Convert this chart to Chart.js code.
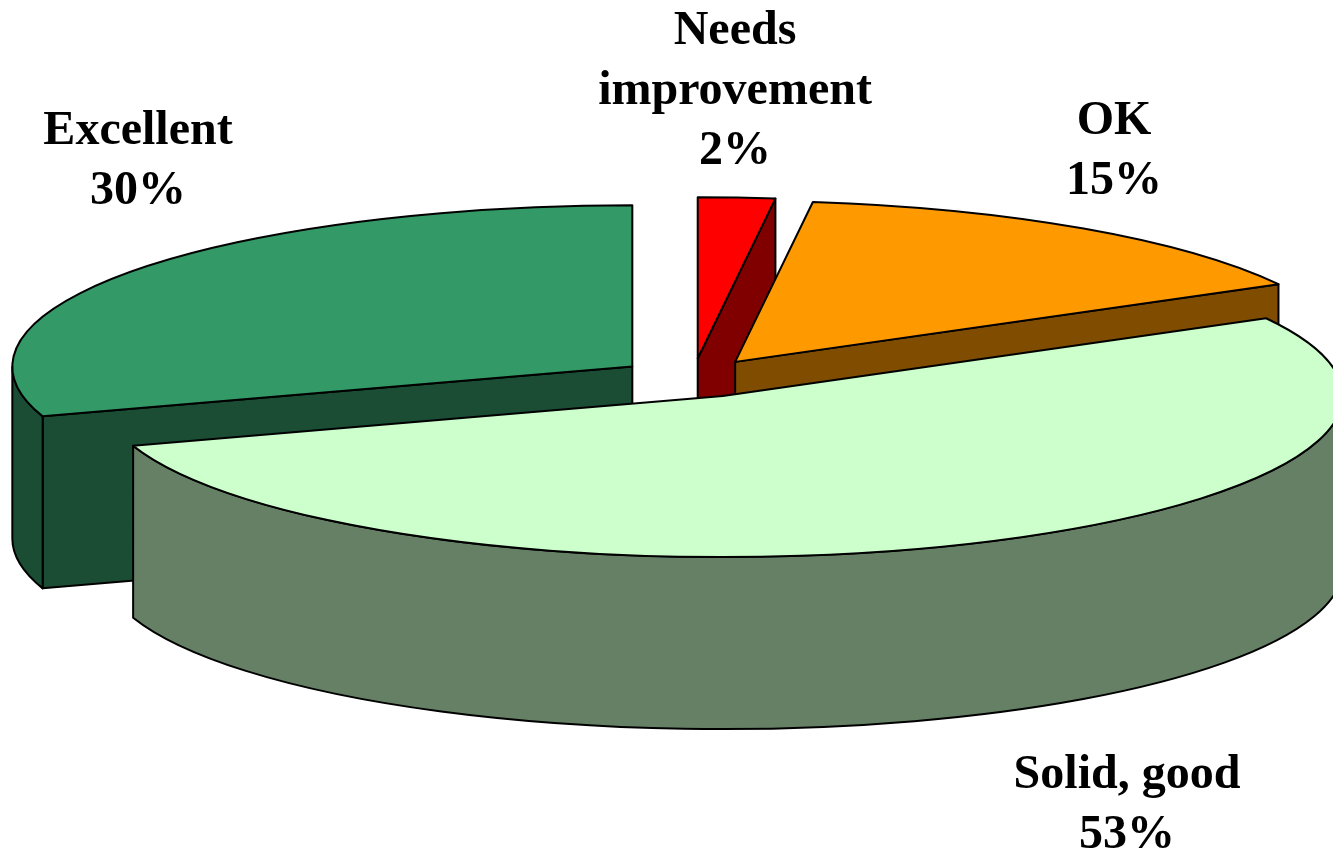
<!DOCTYPE html>
<html>
<head>
<meta charset="utf-8">
<style>html,body{margin:0;padding:0;background:#fff;overflow:hidden}canvas{display:block}</style>
<script src="https://cdn.jsdelivr.net/npm/chart.js@4"></script>
</head>
<body>
<canvas id="c" width="1333" height="852"></canvas>
<script>
const categories = ['Needs improvement', 'OK', 'Solid, good', 'Excellent'];
const labelLines = [['Needs', 'improvement'], ['OK'], ['Solid, good'], ['Excellent']];
const values = [2, 15, 53, 30];
const topColors = ['#FF0000', '#FF9900', '#CCFFCC', '#339966'];
const wallColors = ['#800000', '#804D00', '#668066', '#1A4D33'];

// view settings for the tilted, exploded pie
const tilt = 0.26, depth = 172, explode = 75, pieRadius = 620;
const drawOrder = [3, 0, 1, 2];
const labelAnchors = [[735, 44], [1114, 134], [1127, 788], [138, 144]];
const lineGap = 60;

function sliceFrame(arc) {
  const mid = (arc.startAngle + arc.endAngle) / 2;
  return {
    dx: Math.cos(mid) * explode,
    dy: Math.sin(mid) * explode * tilt,
    cx: arc.x + Math.cos(mid) * explode,
    cy: arc.y + Math.sin(mid) * explode * tilt,
    rx: arc.outerRadius,
    ry: arc.outerRadius * tilt
  };
}

function paint(ctx, fill) {
  ctx.fillStyle = fill;
  ctx.fill();
  ctx.lineWidth = 2;
  ctx.lineJoin = 'round';
  ctx.strokeStyle = '#000';
  ctx.stroke();
}

function radialFace(ctx, f, angle, color) {
  const ex = f.cx + f.rx * Math.cos(angle), ey = f.cy + f.ry * Math.sin(angle);
  ctx.beginPath();
  ctx.moveTo(f.cx, f.cy);
  ctx.lineTo(ex, ey);
  ctx.lineTo(ex, ey + depth);
  ctx.lineTo(f.cx, f.cy + depth);
  ctx.closePath();
  paint(ctx, color);
}

function drawWalls(ctx, arc, color) {
  const f = sliceFrame(arc), s = arc.startAngle, e = arc.endAngle;
  const a0 = Math.max(s, 0), a1 = Math.min(e, Math.PI);
  if (Math.cos(s) < -1e-6) radialFace(ctx, f, s, color);
  if (Math.cos(e) > 1e-6) radialFace(ctx, f, e, color);
  if (a1 > a0) {
    ctx.beginPath();
    ctx.ellipse(f.cx, f.cy, f.rx, f.ry, 0, a0, a1);
    ctx.ellipse(f.cx, f.cy + depth, f.rx, f.ry, 0, a1, a0, true);
    ctx.closePath();
    paint(ctx, color);
  }
}

function drawTop(ctx, arc) {
  const f = sliceFrame(arc);
  ctx.save();
  ctx.translate(f.dx, arc.y + f.dy);
  ctx.scale(1, tilt);
  ctx.translate(0, -arc.y);
  arc.draw(ctx);
  ctx.restore();
  ctx.beginPath();
  ctx.moveTo(f.cx, f.cy);
  ctx.ellipse(f.cx, f.cy, f.rx, f.ry, 0, arc.startAngle, arc.endAngle);
  ctx.closePath();
  ctx.lineWidth = 2;
  ctx.lineJoin = 'round';
  ctx.strokeStyle = '#000';
  ctx.stroke();
}

const pie3d = {
  id: 'pie3d',
  beforeDatasetsDraw(chart) {
    const ctx = chart.ctx, arcs = chart.getDatasetMeta(0).data;
    drawOrder.forEach(i => {
      drawWalls(ctx, arcs[i], wallColors[i]);
      drawTop(ctx, arcs[i]);
    });
    return false;
  },
  afterDraw(chart) {
    const ctx = chart.ctx;
    ctx.save();
    ctx.fillStyle = '#000';
    ctx.font = 'bold 48px "Liberation Serif", serif';
    ctx.textAlign = 'center';
    ctx.textBaseline = 'alphabetic';
    categories.forEach((name, i) => {
      const lines = labelLines[i].concat(values[i] + '%');
      lines.forEach((t, j) => ctx.fillText(t, labelAnchors[i][0], labelAnchors[i][1] + j * lineGap));
    });
    ctx.restore();
  }
};

new Chart(document.getElementById('c'), {
  type: 'pie',
  data: {
    labels: categories,
    datasets: [{ data: values, backgroundColor: topColors, borderWidth: 0, radius: pieRadius }]
  },
  options: {
    responsive: false,
    animation: false,
    rotation: 0,
    layout: { padding: { left: 53, top: 0, right: 0, bottom: 96 } },
    plugins: { legend: { display: false }, tooltip: { enabled: false } }
  },
  plugins: [pie3d]
});
</script>
</body>
</html>
